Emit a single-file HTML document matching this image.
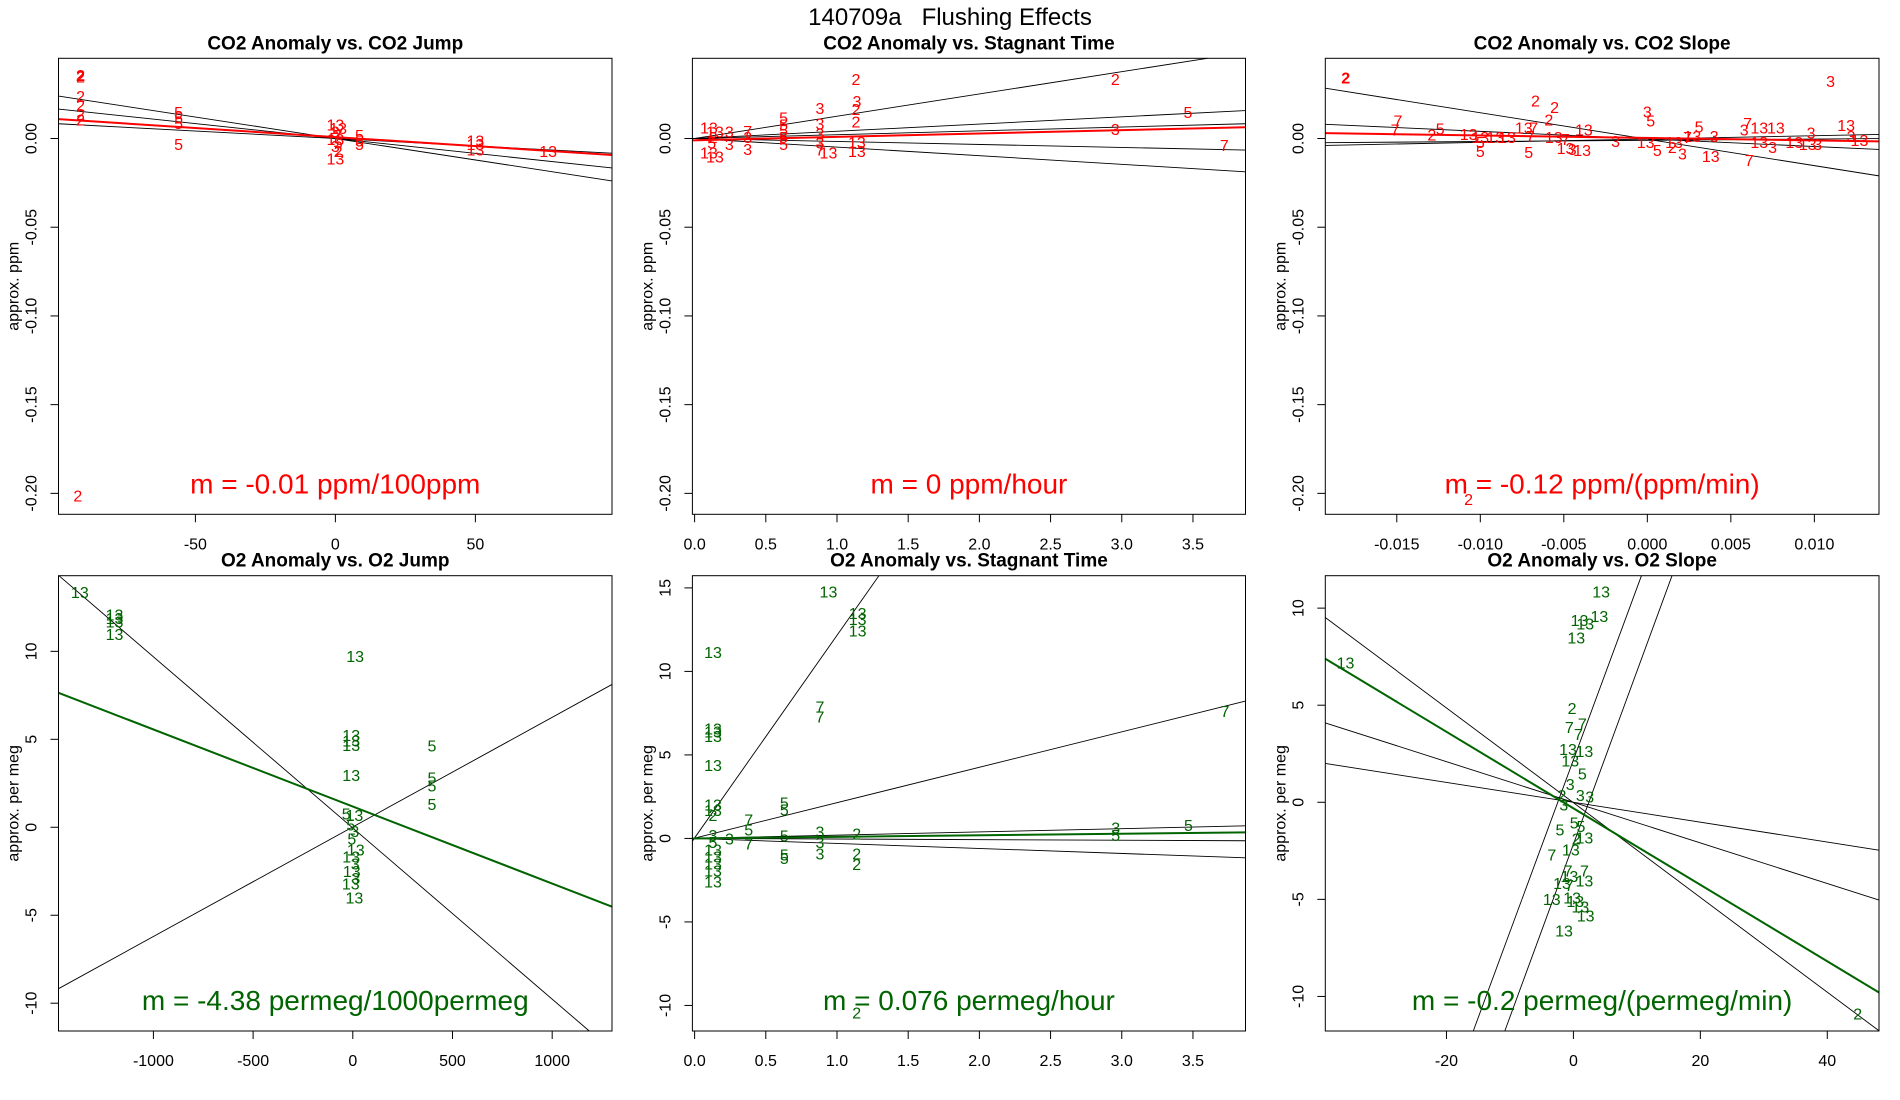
<!DOCTYPE html>
<html><head><meta charset="utf-8"><style>
html,body{margin:0;padding:0;background:#fff;width:1900px;height:1100px;overflow:hidden;}
svg{display:block;font-family:"Liberation Sans",Arial,sans-serif;}
</style></head><body>
<svg id="fig" width="1900" height="1100" viewBox="0 0 1900 1100" xmlns="http://www.w3.org/2000/svg">
<rect width="1900" height="1100" fill="#fff"/>
<text x="950" y="25" text-anchor="middle" font-size="24" style="white-space:pre">140709a   Flushing Effects</text>
</svg>
<script>
// ---- Panel 1: CO2 anomaly vs CO2 jump ----
const p1X=[-91,-91,-91,-91,-91,-91,-92,-56,-56,-56,-56,0,1,0,1,0,1,0,1,0,8.6,8.6,8.6,50,50,50,76];
const p1Y=[0.035,0.034,0.023,0.018,0.013,0.010,-0.202,0.014,0.011,0.008,-0.004,0.007,0.005,0.003,0.001,-0.001,-0.003,-0.005,-0.008,-0.012,0.001,-0.002,-0.004,-0.002,-0.004,-0.007,-0.008];
const p1Lab=["2","2","2","2","2","2","2","5","5","5","5","13","13","3","7","13","5","3","2","13","5","5","5","13","13","13","13"];
const p1FitSlopes=[-0.000242,-0.000168,-0.000084];
const p1FitInts=[0,0,0];
const p1MainFit=[0.0008,-0.000102];
const p1XTicks=[-50,0,50];
const p1XTickLabels=["-50","0","50"];
// ---- Panel 2: CO2 anomaly vs stagnant time ----
const p2X=[1.133,2.955,0.88,1.14,1.133,1.133,3.465,2.955,3.72,0.625,0.625,0.625,0.625,0.625,0.88,0.88,0.88,0.88,0.94,1.14,1.14,0.244,0.244,0.373,0.373,0.373,0.1,0.143,0.12,0.1,0.143,0.13];
const p2Y=[0.0326,0.0326,0.0164,0.0203,0.0157,0.0088,0.0141,0.0046,-0.0046,0.011,0.007,0.004,0.0,-0.004,0.0076,0.002,-0.003,-0.007,-0.0086,-0.0028,-0.008,0.003,-0.004,0.0035,0.0,-0.0067,0.0053,0.003,-0.003,-0.0086,-0.011,0.0];
const p2Lab=["2","2","3","3","2","2","5","3","7","5","5","5","5","5","3","3","3","7","13","13","13","3","3","7","3","3","13","13","5","13","13","2"];
const p2FitSlopes=[0.01255,0.00407,0.00215,-0.00168,-0.00485];
const p2FitInts=[0,0,0,0,0];
const p2MainFit=[-0.001,0.0019];
const p2XTicks=[0,0.5,1,1.5,2,2.5,3,3.5];
const p2XTickLabels=["0.0","0.5","1.0","1.5","2.0","2.5","3.0","3.5"];
// ---- Panel 3: CO2 anomaly vs CO2 slope ----
const p3X=[-0.01806,0.01097,-0.0067,-0.00555,-0.0059,0.0,0.0002,-0.01493,-0.0151,-0.0129,-0.0124,-0.0107,-0.01,-0.0091,-0.0084,-0.01,-0.01,-0.0074,-0.0068,-0.007,-0.0071,-0.0056,-0.0049,-0.0049,-0.0045,-0.0039,-0.0038,-0.0019,-0.0001,0.0006,0.0015,0.0021,0.0016,0.0031,0.0027,0.0024,0.004,0.0038,0.0058,0.006,0.0067,0.0077,0.0067,0.0075,0.0061,0.0088,0.0098,0.0096,0.0102,0.0119,0.0122,0.0127,-0.0107];
const p3Y=[0.0336,0.0317,0.0207,0.0168,0.0099,0.0145,0.0092,0.0092,0.0041,0.0014,0.0048,0.0018,0.0,0.0,0.0,-0.0028,-0.0078,0.0053,0.0053,0.0007,-0.0085,0.0,-0.0011,-0.0062,-0.0067,-0.0074,0.0041,-0.0023,-0.0028,-0.0074,-0.0055,-0.0092,-0.0028,0.006,0.0007,0.0,0.0007,-0.0108,0.0041,0.008,0.0053,0.0053,-0.0028,-0.0055,-0.0131,-0.0028,0.0025,-0.0039,-0.0039,0.0069,0.0007,-0.0016,-0.204];
const p3Lab=["2","3","2","2","2","3","5","7","7","2","5","13","13","13","13","5","5","13","7","7","5","13","7","13","3","13","13","3","13","5","2","3","13","5","13","7","3","13","3","7","13","13","13","3","7","13","3","13","3","13","3","13","2"];
const p3FitSlopes=[-1.49,-0.428,0.187,0.07];
const p3FitInts=[-0.0004,-0.00025,-0.0003,-0.001];
const p3MainFit=[0.00032,-0.139];
const p3XTicks=[-0.015,-0.01,-0.005,0,0.005,0.01];
const p3XTickLabels=["-0.015","-0.010","-0.005","0.000","0.005","0.010"];
// ---- Panel 4: O2 anomaly vs O2 jump ----
const p4X=[-1369,-1195,-1195,-1195,-1195,12,-8,-8,-8,-8,397,397,397,397,-33,8,-10,10,-5,15,-8,12,-5,15,-10,8];
const p4Y=[13.3,12.0,11.8,11.6,10.9,9.65,5.15,4.85,4.6,2.9,4.55,2.75,2.3,1.25,0.7,0.6,0.08,-0.3,-0.73,-1.34,-1.75,-2.15,-2.56,-2.96,-3.27,-4.08];
const p4Lab=["13","13","13","13","13","13","13","13","13","13","5","5","5","5","5","13","5","3","5","13","13","3","13","3","13","13"];
const p4FitSlopes=[-0.00973,0.00623];
const p4FitInts=[-0.04,0.02];
const p4MainFit=[1.18,-0.00438];
const p4XTicks=[-1000,-500,0,500,1000];
const p4XTickLabels=["-1000","-500","0","500","1000"];
// ---- Panel 5: O2 anomaly vs stagnant time ----
const p5X=[0.94,1.145,1.145,1.145,0.129,0.88,0.88,3.725,0.129,0.129,0.129,0.129,0.63,0.63,0.129,0.129,0.129,0.38,0.38,0.38,0.63,0.88,0.88,0.88,0.63,0.63,1.138,1.138,1.138,2.957,2.957,3.468,0.245,1.138,0.129,0.129,0.129,0.129,0.129,0.129,0.129];
const p5Y=[14.7,13.4,13.05,12.35,11.06,7.8,7.2,7.55,6.5,6.3,6.05,4.3,2.05,1.65,1.93,1.6,1.3,1.04,-0.4,0.44,0.1,0.33,-0.3,-1.0,-1.06,-1.27,0.22,-1.0,-1.63,0.55,0.12,0.7,-0.1,-10.5,0.12,-0.31,-0.74,-1.17,-1.6,-2.0,-2.66];
const p5Lab=["13","13","13","13","13","7","7","7","13","13","13","13","5","5","13","13","2","7","7","5","5","3","3","3","5","5","2","2","2","3","5","5","3","2","3","5","13","13","13","13","13"];
const p5FitSlopes=[12.13,2.12,0.195,-0.036,-0.30];
const p5FitInts=[0.03,0.02,0,0,0];
const p5MainFit=[0,0.093];
const p5XTicks=[0,0.5,1,1.5,2,2.5,3,3.5];
const p5XTickLabels=["0.0","0.5","1.0","1.5","2.0","2.5","3.0","3.5"];
// ---- Panel 6: O2 anomaly vs O2 slope ----
const p6X=[4.37,0.96,4.1,1.87,0.45,-35.9,-0.2,-0.64,1.4,0.77,-0.84,1.74,-0.5,1.4,-0.5,1.1,2.57,-1.5,-1.8,0.13,1.2,-2.12,0.45,1.74,-3.4,-0.39,-0.84,1.74,-0.64,1.74,-1.8,-0.64,-3.4,-0.2,1.1,0.3,1.93,-1.48,44.8];
const p6Y=[10.79,9.32,9.52,9.13,8.42,7.13,4.77,3.8,3.98,3.43,2.66,2.57,2.07,1.4,0.86,0.3,0.23,-0.19,0.3,-1.11,-1.3,-1.48,-1.94,-1.9,-2.77,-2.5,-3.6,-3.6,-3.87,-4.1,-4.24,-4.33,-5.07,-4.97,-5.44,-5.16,-5.9,-6.67,-10.96];
const p6Lab=["13","13","13","13","13","13","2","7","7","7","13","13","13","5","3","3","3","3","2","5","5","5","2","13","7","13","7","7","13","13","13","7","13","13","13","13","13","13","2"];
const p6FitSlopes=[-0.244,-0.1046,-0.0512,0.885,0.89];
const p6FitInts=[-0.02,0,0,2.18,-2.16];
const p6MainFit=[-0.31,-0.197];
const p6XTicks=[-20,0,20,40];
const p6XTickLabels=["-20","0","20","40"];

const co2YTicks=[0,-0.05,-0.1,-0.15,-0.2];
const co2YTickLabels=["0.00","-0.05","-0.10","-0.15","-0.20"];
const o2aYTicks=[-10,-5,0,5,10];
const o2bYTicks=[-10,-5,0,5,10,15];

const NS="http://www.w3.org/2000/svg";
const fig=document.getElementById('fig');
function mk(tag,attrs,parent){const e=document.createElementNS(NS,tag);for(const k in attrs)e.setAttribute(k,attrs[k]);(parent||fig).appendChild(e);return e;}

function clipLine(a,b,xr,yr){
  let x0=xr[0],x1=xr[1];
  if(b!==0){
    let xa=(yr[0]-a)/b, xb=(yr[1]-a)/b;
    if(xa>xb){const t=xa;xa=xb;xb=t;}
    x0=Math.max(x0,xa);x1=Math.min(x1,xb);
  }
  if(x0>=x1)return null;
  return [x0,a+b*x0,x1,a+b*x1];
}

function panel(cfg){
  const g=mk('g',{});
  
  
  const L=cfg.box[0],R=cfg.box[1],T=cfg.box[2],B=cfg.box[3];
  const sx=v=>L+(v-cfg.xr[0])/(cfg.xr[1]-cfg.xr[0])*(R-L);
  const sy=v=>B-(v-cfg.yr[0])/(cfg.yr[1]-cfg.yr[0])*(B-T);
  const t=mk('text',{x:(L+R)/2,y:T-9,'text-anchor':'middle','font-size':19,'font-weight':'bold'},g);
  t.textContent=cfg.title;
  
  
  cfg.xt.forEach((v,i)=>{
    const x=sx(v);
    const tk=mk('line',{x1:x,x2:x,y1:B,y2:B+8,stroke:'#000','stroke-width':1},g);
    
    
    const lb=mk('text',{x:x,y:B+35,'text-anchor':'middle','font-size':16},g);
    lb.textContent=cfg.xtl[i];
    
    
  });
  cfg.yt.forEach((v,i)=>{
    const y=sy(v);
    const tk=mk('line',{x1:L-8,x2:L,y1:y,y2:y,stroke:'#000','stroke-width':1},g);
    
    
    const lb=mk('text',{x:L-22,y:y,'text-anchor':'middle','font-size':16,transform:`rotate(-90 ${L-22} ${y})`},g);
    lb.textContent=cfg.ytl[i];
    
    
  });
  const yl=mk('text',{x:L-40,y:(T+B)/2,'text-anchor':'middle','font-size':16,transform:`rotate(-90 ${L-40} ${(T+B)/2})`},g);
  yl.textContent=cfg.ylab;
  
  
  cfg.slopes.forEach((b,i)=>{
    const c=clipLine(cfg.ints[i],b,cfg.xr,cfg.yr);
    if(!c)return;
    const ln=mk('line',{x1:sx(c[0]),y1:sy(c[1]),x2:sx(c[2]),y2:sy(c[3]),stroke:'#000','stroke-width':0.9},g);
    
    
  });
  cfg.xs.forEach((xv,i)=>{
    const attrs={x:sx(xv),y:sy(cfg.ys[i]),'text-anchor':'middle','dominant-baseline':'central','font-size':16,fill:cfg.color};
    if(cfg.boldFirst&&i===0)attrs['font-weight']='bold';
    const p=mk('text',attrs,g);
    p.textContent=cfg.labs[i];
    
    
  });
  const c=clipLine(cfg.main[0],cfg.main[1],cfg.xr,cfg.yr);
  if(c){
    const ml=mk('line',{x1:sx(c[0]),y1:sy(c[1]),x2:sx(c[2]),y2:sy(c[3]),stroke:cfg.color,'stroke-width':2},g);
    
    
  }
  const box=mk('rect',{x:L,y:T,width:R-L,height:B-T,fill:'none',stroke:'#000','stroke-width':1},g);
  
  
  const an=mk('text',{x:(L+R)/2,y:B-21,'text-anchor':'middle','font-size':28,fill:cfg.color},g);
  an.textContent=cfg.annot;
  
  
}
const cols=[[58.5,612],[692.4,1245.5],[1325.3,1879]];
const row1=[58.3,514.3], row2=[575.7,1031];
const co2Yr=[-0.2118,0.0452];
panel({name:'co2-vs-co2-jump',box:[...cols[0],...row1],xr:[-98.9,98.8],yr:co2Yr,title:'CO2 Anomaly vs. CO2 Jump',ylab:'approx. ppm',xt:p1XTicks,xtl:p1XTickLabels,yt:co2YTicks,ytl:co2YTickLabels,xs:p1X,ys:p1Y,labs:p1Lab,slopes:p1FitSlopes,ints:p1FitInts,main:p1MainFit,color:'#ff0000',annot:'m = -0.01 ppm/100ppm',boldFirst:true});
panel({name:'co2-vs-stagnant-time',box:[...cols[1],...row1],xr:[-0.0155,3.869],yr:co2Yr,title:'CO2 Anomaly vs. Stagnant Time',ylab:'approx. ppm',xt:p2XTicks,xtl:p2XTickLabels,yt:co2YTicks,ytl:co2YTickLabels,xs:p2X,ys:p2Y,labs:p2Lab,slopes:p2FitSlopes,ints:p2FitInts,main:p2MainFit,color:'#ff0000',annot:'m = 0 ppm/hour'});
panel({name:'co2-vs-co2-slope',box:[...cols[2],...row1],xr:[-0.01928,0.01387],yr:co2Yr,title:'CO2 Anomaly vs. CO2 Slope',ylab:'approx. ppm',xt:p3XTicks,xtl:p3XTickLabels,yt:co2YTicks,ytl:co2YTickLabels,xs:p3X,ys:p3Y,labs:p3Lab,slopes:p3FitSlopes,ints:p3FitInts,main:p3MainFit,color:'#ff0000',annot:'m = -0.12 ppm/(ppm/min)',boldFirst:true});
panel({name:'o2-vs-o2-jump',box:[...cols[0],...row2],xr:[-1476,1300],yr:[-11.58,14.3],title:'O2 Anomaly vs. O2 Jump',ylab:'approx. per meg',xt:p4XTicks,xtl:p4XTickLabels,yt:o2aYTicks,ytl:o2aYTicks.map(String),xs:p4X,ys:p4Y,labs:p4Lab,slopes:p4FitSlopes,ints:p4FitInts,main:p4MainFit,color:'#006400',annot:'m = -4.38 permeg/1000permeg'});
panel({name:'o2-vs-stagnant-time',box:[...cols[1],...row2],xr:[-0.0155,3.869],yr:[-11.53,15.73],title:'O2 Anomaly vs. Stagnant Time',ylab:'approx. per meg',xt:p5XTicks,xtl:p5XTickLabels,yt:o2bYTicks,ytl:o2bYTicks.map(String),xs:p5X,ys:p5Y,labs:p5Lab,slopes:p5FitSlopes,ints:p5FitInts,main:p5MainFit,color:'#006400',annot:'m = 0.076 permeg/hour'});
panel({name:'o2-vs-o2-slope',box:[...cols[2],...row2],xr:[-39.09,48.15],yr:[-11.78,11.67],title:'O2 Anomaly vs. O2 Slope',ylab:'approx. per meg',xt:p6XTicks,xtl:p6XTickLabels,yt:o2aYTicks,ytl:o2aYTicks.map(String),xs:p6X,ys:p6Y,labs:p6Lab,slopes:p6FitSlopes,ints:p6FitInts,main:p6MainFit,color:'#006400',annot:'m = -0.2 permeg/(permeg/min)'});
</script>
</body></html>
